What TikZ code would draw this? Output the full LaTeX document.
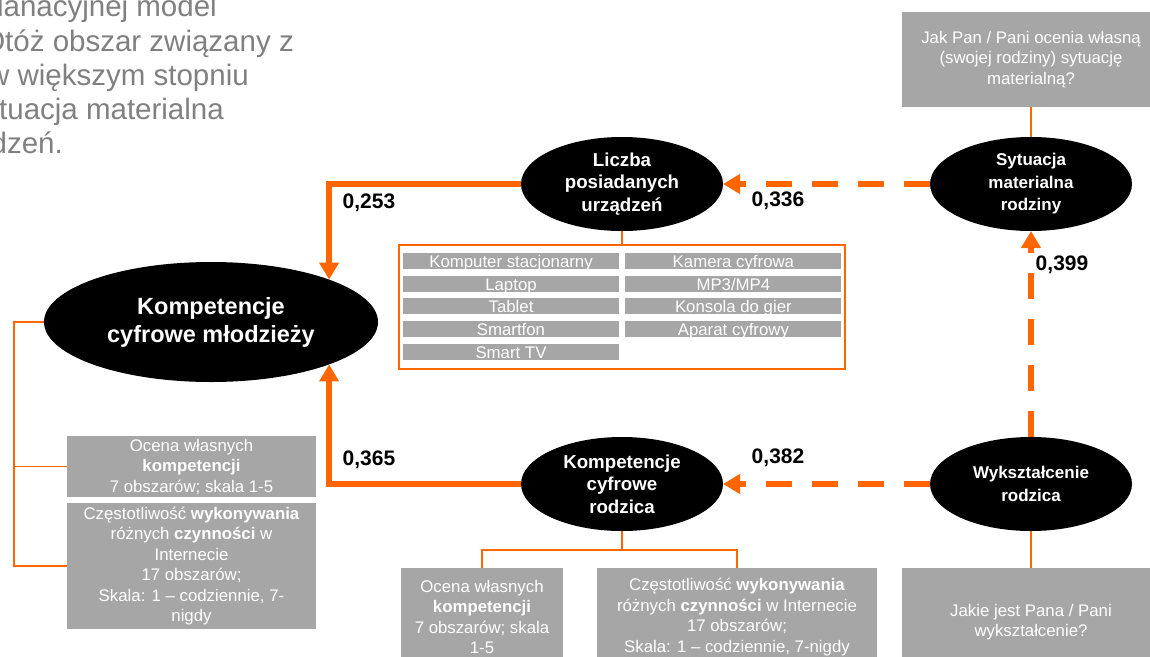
\documentclass[tikz,border=0pt]{standalone}
\usepackage{fontspec}
\setmainfont{Liberation Sans}
\usetikzlibrary{arrows.meta,positioning,shapes.geometric}
\definecolor{orng}{HTML}{FF6600}
\definecolor{boxgrey}{HTML}{A6A6A6}
\definecolor{txtgrey}{HTML}{808080}

\begin{document}
\begin{tikzpicture}[x=1pt,y=-1pt,node distance=6.3pt]
\tikzset{latent/.style={ellipse,fill=black,text=white,align=center,inner sep=0pt,outer sep=0pt,minimum width=202pt,minimum height=94pt,font=\fontsize{17}{22.5}\selectfont\bfseries},
  latentl/.style={latent,font=\fontsize{18.7}{22.5}\selectfont\bfseries},
  item/.style={fill=boxgrey,text=white,align=center,inner sep=0pt,outer sep=0pt,font=\fontsize{16.8}{20.5}\selectfont},
  device/.style={fill=boxgrey,text=white,inner sep=0pt,minimum width=216pt,minimum height=16pt,text height=14.5pt,text depth=1.5pt,font=\fontsize{16.8}{20}\selectfont},
  coef/.style={font=\fontsize{21}{25}\selectfont\bfseries},
  effect/.style={draw=orng,line width=6pt,-{Triangle[length=17pt,width=19pt]}},
  effectd/.style={effect,dash pattern=on 26pt off 20pt},
  link/.style={draw=orng,line width=1.8pt},
  lead/.style={text=txtgrey,anchor=base east,inner sep=0pt,font=\fontsize{29.5}{34}\selectfont}}
\useasboundingbox (0,0) rectangle (1150,656);
\clip (0,0) rectangle (1150,656);
% tekst z poprzedniego slajdu
\node[lead] (t1) at (217,16) {lanacyjnej model};
\node[lead] (t2) at (294,51.5) {Otóż obszar związany z};
\node[lead] (t3) at (249,85.5) {w większym stopniu};
\node[lead] (t4) at (224,119) {tuacja materialna};
\node[lead] (t5) at (63,153) {dzeń.};
% zmienne
\node[latent,minimum width=334pt,minimum height=120pt,font=\fontsize{23.5}{28}\selectfont\bfseries] (komp) at (211,322) {Kompetencje\\cyfrowe młodzieży};
\node[latentl] (liczba) at (622,184) {Liczba\\posiadanych\\urządzeń};
\node[latent] (sytuacja) at (1031,184) {Sytuacja\\materialna\\rodziny};
\node[latentl] (rodzica) at (622,484) {Kompetencje\\cyfrowe\\rodzica};
\node[latent] (wyksz) at (1031,484) {Wykształcenie\\rodzica};
% wskazniki
\node[item,minimum width=258pt,minimum height=95pt] (qsyt) at (1031,59.5) {Jak Pan / Pani ocenia własną\\(swojej rodziny) sytuację\\materialną?};
\node[item,minimum width=258pt,minimum height=108pt] (qwyk) at (1031,622) {Jakie jest Pana / Pani\\wykształcenie?};
\node[item,minimum width=249pt,minimum height=61pt] (obox1) at (191.5,466.5) {Ocena własnych\\\textbf{kompetencji}\\7 obszarów; skala 1-5};
\node[item,minimum width=249pt,minimum height=126pt] (obox2) at (191.5,566) {Częstotliwość \textbf{wykonywania}\\różnych \textbf{czynności} w\\Internecie\\17 obszarów;\\Skala: 1 – codziennie, 7-\\nigdy};
\node[item,minimum width=162pt,minimum height=98pt] (rboxA) at (482,617) {Ocena własnych\\\textbf{kompetencji}\\7 obszarów; skala\\1-5};
\node[item,minimum width=280pt,minimum height=98pt] (rboxB) at (737,617) {Częstotliwość \textbf{wykonywania}\\różnych \textbf{czynności} w Internecie\\17 obszarów;\\Skala: 1 – codziennie, 7-nigdy};
% urzadzenia
\node[draw=orng,line width=1.8pt,inner sep=0pt,minimum width=446pt,minimum height=124pt] (devs) at (622,307) {};
\node[device] (d1) at (511,261) {Komputer stacjonarny};
\node[device,below=of d1] (d2) {Laptop};
\node[device,below=of d2] (d3) {Tablet};
\node[device,below=of d3] (d4) {Smartfon};
\node[device,below=of d4] (d5) {Smart TV};
\node[device,right=6pt of d1] (k1) {Kamera cyfrowa};
\node[device,below=of k1] (k2) {MP3/MP4};
\node[device,below=of k2] (k3) {Konsola do gier};
\node[device,below=of k3] (k4) {Aparat cyfrowy};
% polaczenia
\coordinate (kbr) at (14,322);
\coordinate (rbr) at (622,550);
\draw[link] (qsyt.south) -- (sytuacja.north);
\draw[link] (wyksz.south) -- (qwyk.north);
\draw[link] (liczba.south) -- (devs.north);
\draw[link] (komp.west) -- (kbr) |- (obox2.west);
\draw[link] (kbr) |- (obox1.west);
\draw[link] (rodzica.south) -- (rbr) -| (rboxA.north);
\draw[link] (rbr) -| (rboxB.north);
\draw[effect] (liczba.west) -| (komp.north east);
\draw[effect] (rodzica.west) -| (komp.south east);
\draw[effectd] (sytuacja.west) -- (liczba.east);
\draw[effectd] (wyksz.west) -- (rodzica.east);
\draw[effectd] (wyksz.north) -- (sytuacja.south);
\node[coef] (c253) at (369,203) {0,253};
\node[coef] (c336) at (778,201) {0,336};
\node[coef] (c399) at (1062,265) {0,399};
\node[coef] (c365) at (369,460) {0,365};
\node[coef] (c382) at (778,458) {0,382};
\end{tikzpicture}
\end{document}
